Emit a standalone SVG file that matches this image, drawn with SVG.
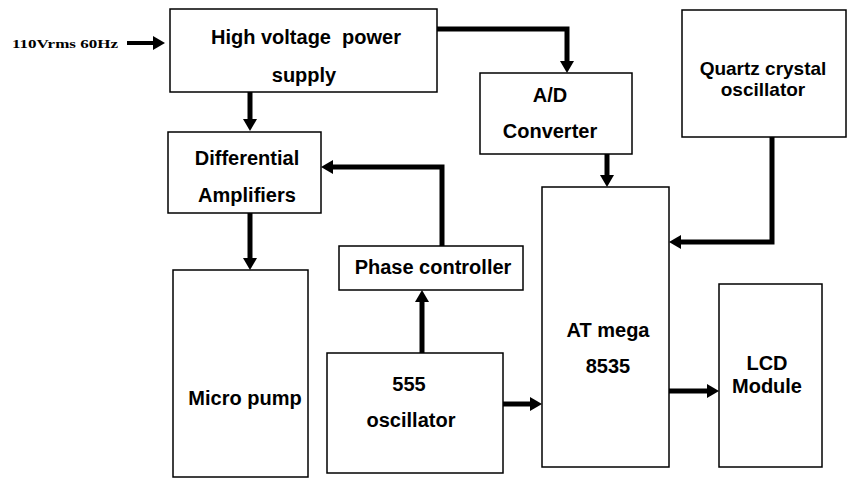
<svg xmlns="http://www.w3.org/2000/svg" width="848" height="478" viewBox="0 0 848 478">
<style>
.box{fill:#fff;stroke:#000;stroke-width:1.5}
.t{font-family:"Liberation Sans",Arial,sans-serif;font-weight:bold;font-size:20px;fill:#000;text-anchor:middle}
.c{fill:none;stroke:#000;stroke-width:5;marker-end:url(#ah)}
</style>
<defs>
<marker id="ah" viewBox="0 0 12 14" refX="0" refY="7" markerWidth="12" markerHeight="14" orient="auto" markerUnits="userSpaceOnUse">
<path d="M0,0 L12,7 L0,14 z" fill="#000"/>
</marker>
</defs>
<rect width="848" height="478" fill="#fff"/>
<g id="connectors">
<path class="c" d="M127,43 H153" style="stroke-width:4"/>
<path class="c" d="M250,92 V119"/>
<path class="c" d="M437,29 H567 V61"/>
<path class="c" d="M607,154 V175"/>
<path class="c" d="M250,213 V258"/>
<path class="c" d="M442,246 V167 H333"/>
<path class="c" d="M422,353 V302"/>
<path class="c" d="M503,404 H530"/>
<path class="c" d="M772,137 V242 H681"/>
<path class="c" d="M669,391 H707"/>
</g>
<g id="input">
<text x="12" y="48" textLength="106" lengthAdjust="spacingAndGlyphs" style="font-family:'Liberation Serif','Times New Roman',serif;font-weight:bold;font-size:13px">110Vrms 60Hz</text>
</g>
<g id="hv">
<rect class="box" x="170" y="9" width="267" height="83"/>
<text class="t" x="306" y="44" xml:space="preserve">High voltage  power</text>
<text class="t" x="304" y="82">supply</text>
</g>
<g id="ad">
<rect class="box" x="480" y="73" width="152" height="81"/>
<text class="t" x="550" y="102">A/D</text>
<text class="t" x="550" y="138">Converter</text>
</g>
<g id="quartz">
<rect class="box" x="682" y="10" width="164" height="127"/>
<text class="t" x="763" y="75" style="font-size:19px">Quartz crystal</text>
<text class="t" x="763" y="96" style="font-size:19px">oscillator</text>
</g>
<g id="diff">
<rect class="box" x="168" y="132" width="153" height="81"/>
<text class="t" x="247" y="165">Differential</text>
<text class="t" x="247" y="202">Amplifiers</text>
</g>
<g id="phase">
<rect class="box" x="339" y="246" width="184" height="44"/>
<text class="t" x="433" y="274">Phase controller</text>
</g>
<g id="micropump">
<rect class="box" x="173" y="270" width="135" height="207"/>
<text class="t" x="245" y="405">Micro pump</text>
</g>
<g id="osc555">
<rect class="box" x="327" y="353" width="176" height="120"/>
<text class="t" x="409" y="391">555</text>
<text class="t" x="411" y="427">oscillator</text>
</g>
<g id="atmega">
<rect class="box" x="542" y="187" width="127" height="280"/>
<text class="t" x="608" y="337">AT mega</text>
<text class="t" x="608" y="373">8535</text>
</g>
<g id="lcd">
<rect class="box" x="719" y="284" width="103" height="183"/>
<text class="t" x="767" y="370">LCD</text>
<text class="t" x="767" y="393">Module</text>
</g>
</svg>
